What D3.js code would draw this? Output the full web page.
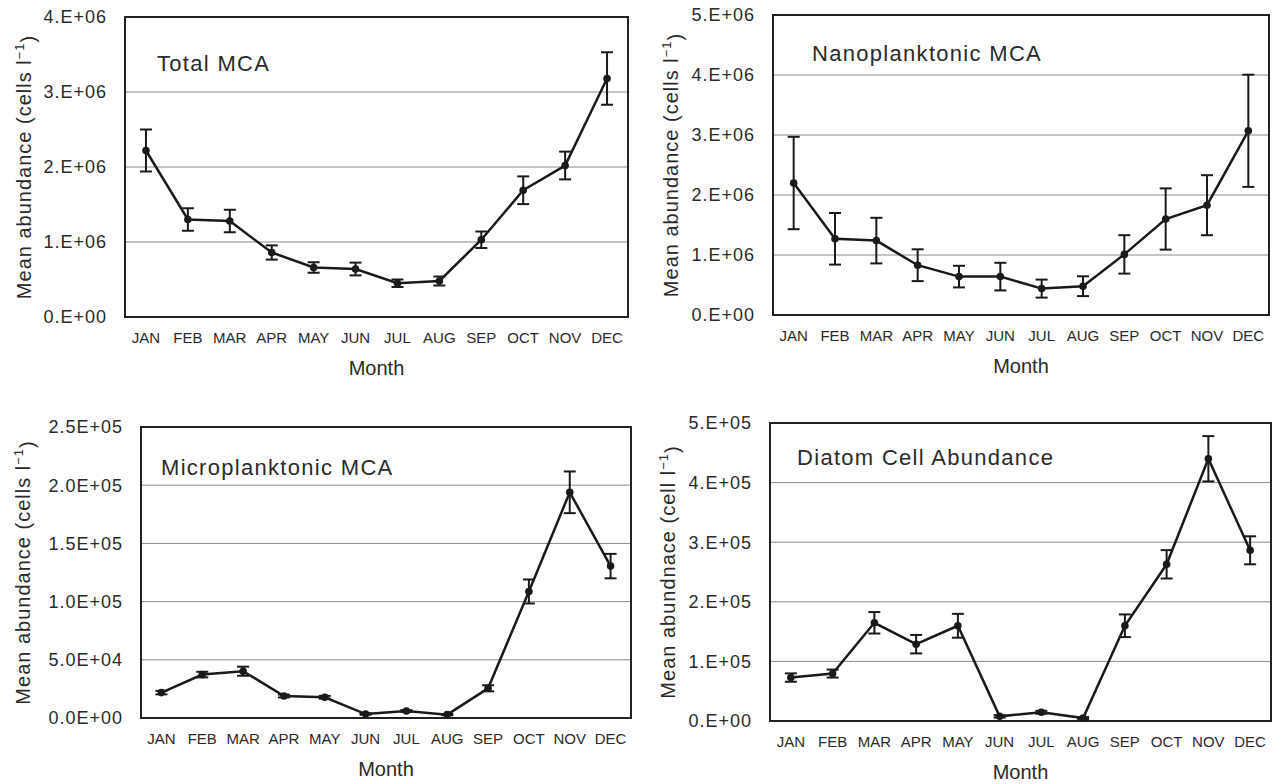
<!DOCTYPE html>
<html>
<head>
<meta charset="utf-8">
<script src="https://cdn.jsdelivr.net/npm/d3@7"></script>
<style>
  body { margin: 0; background: #fff; }
  svg text { font-family: Arial, "Liberation Sans", sans-serif; fill: #2a2a2a; }
</style>
</head>
<body>
<div id="chart"></div>
<script>
// month categories shared by all four panels
const months = ["JAN", "FEB", "MAR", "APR", "MAY", "JUN", "JUL", "AUG", "SEP", "OCT", "NOV", "DEC"];

// Total MCA (cells l-1)
const totalMean = [2.22e6, 1.30e6, 1.28e6, 0.86e6, 0.66e6, 0.64e6, 0.45e6, 0.48e6, 1.03e6, 1.69e6, 2.02e6, 3.18e6];
const totalErr  = [0.28e6, 0.15e6, 0.15e6, 0.095e6, 0.07e6, 0.085e6, 0.05e6, 0.06e6, 0.11e6, 0.185e6, 0.185e6, 0.35e6];
const totalTicks = ["0.E+00", "1.E+06", "2.E+06", "3.E+06", "4.E+06"];

// Nanoplanktonic MCA
const nanoMean = [2.20e6, 1.27e6, 1.24e6, 0.83e6, 0.64e6, 0.64e6, 0.44e6, 0.48e6, 1.01e6, 1.60e6, 1.83e6, 3.07e6];
const nanoErr  = [0.77e6, 0.43e6, 0.38e6, 0.265e6, 0.18e6, 0.23e6, 0.15e6, 0.165e6, 0.32e6, 0.51e6, 0.50e6, 0.935e6];
const nanoTicks = ["0.E+00", "1.E+06", "2.E+06", "3.E+06", "4.E+06", "5.E+06"];

// Microplanktonic MCA
const microMean = [21800, 37300, 40200, 18900, 17800, 3400, 6000, 2900, 25500, 108700, 193900, 130500];
const microErr  = [1500, 2400, 3900, 1200, 1200, 600, 800, 500, 2600, 10300, 17900, 10500];
const microTicks = ["0.0E+00", "5.0E+04", "1.0E+05", "1.5E+05", "2.0E+05", "2.5E+05"];

// Diatom cell abundance
const diatomMean = [72900, 79600, 164800, 128900, 159800, 7800, 14600, 5000, 159800, 262900, 440000, 286400];
const diatomErr  = [7000, 6700, 18000, 15500, 20000, 2000, 2500, 1500, 19000, 23800, 38000, 23500];
const diatomTicks = ["0.E+00", "1.E+05", "2.E+05", "3.E+05", "4.E+05", "5.E+05"];

const svg = d3.select("#chart").append("svg")
    .attr("width", 1277)
    .attr("height", 784);

function drawPanel(p) {
    const g = svg.append("g");
    const x = d3.scaleBand().domain(months).range([p.left, p.right]);
    const y = d3.scaleLinear().domain([0, p.max]).range([p.bottom, p.top]);
    const tickVals = p.ticks.map((t, i) => i * p.max / (p.ticks.length - 1));

    // gridlines
    g.selectAll(".grid").data(tickVals.slice(1, -1)).enter().append("line")
        .attr("x1", p.left).attr("x2", p.right)
        .attr("y1", d => y(d)).attr("y2", d => y(d))
        .attr("stroke", "#8a8a8a").attr("stroke-width", 1);

    // frame
    g.append("rect")
        .attr("x", p.left).attr("y", p.top)
        .attr("width", p.right - p.left).attr("height", p.bottom - p.top)
        .attr("fill", "none").attr("stroke", "#222").attr("stroke-width", 2);

    // y tick labels
    g.selectAll(".ytick").data(tickVals).enter().append("text")
        .attr("x", p.left - 18)
        .attr("y", d => y(d))
        .attr("dy", "0.36em")
        .attr("text-anchor", "end")
        .attr("font-size", 18)
        .attr("letter-spacing", 1)
        .text((d, i) => p.ticks[i]);

    // month labels
    g.selectAll(".xtick").data(months).enter().append("text")
        .attr("x", d => x(d) + x.bandwidth() / 2)
        .attr("y", p.bottom + 26)
        .attr("text-anchor", "middle")
        .attr("font-size", 15)
        .text(d => d);

    g.append("text")
        .attr("x", (p.left + p.right) / 2)
        .attr("y", p.bottom + 58)
        .attr("text-anchor", "middle")
        .attr("font-size", 20)
        .text("Month");

    // y axis title
    const yt = g.append("text")
        .attr("transform", `translate(${p.ylabelX},${(p.top + p.bottom) / 2}) rotate(-90)`)
        .attr("text-anchor", "middle")
        .attr("dy", "0.35em")
        .attr("font-size", 20)
        .attr("letter-spacing", 1);
    yt.append("tspan").text(p.ylabel + " l");
    yt.append("tspan").attr("dy", "-0.55em").attr("font-size", 13).text("−1");
    yt.append("tspan").attr("dy", "0.55em").text(")");

    // panel title
    g.append("text")
        .attr("x", p.left + p.titleDx)
        .attr("y", p.top + p.titleDy)
        .attr("font-size", 22)
        .attr("letter-spacing", 1.3)
        .text(p.title);

    const data = months.map((m, i) => ({ m: m, v: p.mean[i], e: p.err[i] }));
    const cx = d => x(d.m) + x.bandwidth() / 2;

    // error bars
    const eb = g.append("g").attr("stroke", "#1a1a1a").attr("stroke-width", 2);
    eb.selectAll(".ev").data(data).enter().append("line")
        .attr("x1", cx).attr("x2", cx)
        .attr("y1", d => y(d.v - d.e)).attr("y2", d => y(d.v + d.e));
    eb.selectAll(".et").data(data).enter().append("line")
        .attr("x1", d => cx(d) - 6).attr("x2", d => cx(d) + 6)
        .attr("y1", d => y(d.v + d.e)).attr("y2", d => y(d.v + d.e));
    eb.selectAll(".eb").data(data).enter().append("line")
        .attr("x1", d => cx(d) - 6).attr("x2", d => cx(d) + 6)
        .attr("y1", d => y(d.v - d.e)).attr("y2", d => y(d.v - d.e));

    // mean line
    g.append("path")
        .datum(data)
        .attr("fill", "none")
        .attr("stroke", "#1a1a1a")
        .attr("stroke-width", 2.5)
        .attr("d", d3.line().x(cx).y(d => y(d.v)));

    g.selectAll(".dot").data(data).enter().append("circle")
        .attr("cx", cx).attr("cy", d => y(d.v))
        .attr("r", 3.8).attr("fill", "#1a1a1a");
}

drawPanel({ left: 125, right: 628, top: 17, bottom: 317, max: 4e6, ticks: totalTicks,
    mean: totalMean, err: totalErr, title: "Total MCA", titleDx: 32, titleDy: 54,
    ylabel: "Mean abundance (cells", ylabelX: 24 });
drawPanel({ left: 773, right: 1269, top: 15, bottom: 315, max: 5e6, ticks: nanoTicks,
    mean: nanoMean, err: nanoErr, title: "Nanoplanktonic MCA", titleDx: 39, titleDy: 46,
    ylabel: "Mean abundance (cells", ylabelX: 671 });
drawPanel({ left: 141, right: 631, top: 427, bottom: 718, max: 2.5e5, ticks: microTicks,
    mean: microMean, err: microErr, title: "Microplanktonic MCA", titleDx: 20, titleDy: 48,
    ylabel: "Mean abundance (cells", ylabelX: 23 });
drawPanel({ left: 770, right: 1271, top: 423, bottom: 721, max: 5e5, ticks: diatomTicks,
    mean: diatomMean, err: diatomErr, title: "Diatom Cell Abundance", titleDx: 27, titleDy: 42,
    ylabel: "Mean abundnace (cell", ylabelX: 668 });
</script>
</body>
</html>
